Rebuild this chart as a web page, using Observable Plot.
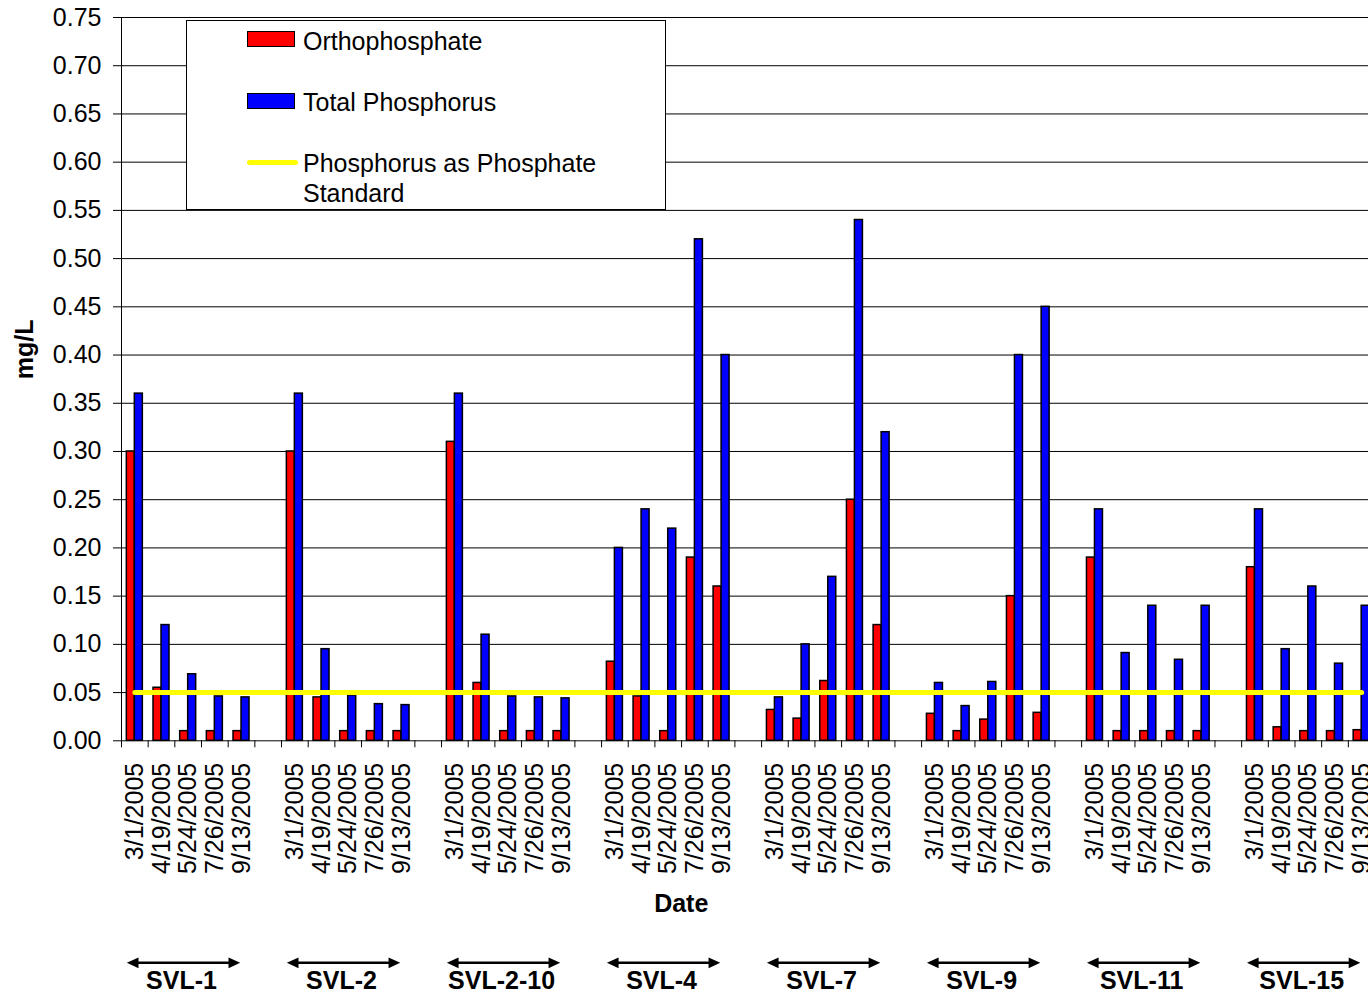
<!DOCTYPE html>
<html><head><meta charset="utf-8">
<script src="https://cdn.jsdelivr.net/npm/d3@7"></script>
<script src="https://cdn.jsdelivr.net/npm/@observablehq/plot@0.6"></script>
<style>
html,body{margin:0;padding:0;background:#fff;overflow:hidden;}
#wrap{position:relative;width:1368px;height:998px;overflow:hidden;font-family:"Liberation Sans",Arial,sans-serif;}
#chart{position:absolute;left:0;top:0;width:1400px;height:998px;}
#chart svg{max-width:none !important;width:1400px !important;height:998px !important;}
#legend{position:absolute;left:186px;top:20px;width:478px;height:188px;border:1px solid #000;background:#fff;}
.sw{position:absolute;left:60px;width:46px;height:14px;border:1.5px solid #000;}
.ln{position:absolute;left:60px;width:51px;height:5px;border-radius:3px;background:#FFFF00;}
.lt{position:absolute;left:116px;font-size:25px;line-height:30px;color:#000;white-space:nowrap;}
</style></head>
<body><div id="wrap"><div id="chart"></div>
<div id="legend"></div>
</div>
<script>
const stations = ["SVL-1","SVL-2","SVL-2-10","SVL-4","SVL-7","SVL-9","SVL-11","SVL-15"];
const dates = ["3/1/2005","4/19/2005","5/24/2005","7/26/2005","9/13/2005"];
const orthophosphate = [
  [0.30, 0.055, 0.010, 0.010, 0.010],
  [0.30, 0.045, 0.010, 0.010, 0.010],
  [0.31, 0.060, 0.010, 0.010, 0.010],
  [0.082, 0.046, 0.010, 0.19, 0.16],
  [0.032, 0.023, 0.062, 0.25, 0.12],
  [0.028, 0.010, 0.022, 0.15, 0.029],
  [0.19, 0.010, 0.010, 0.010, 0.010],
  [0.18, 0.014, 0.010, 0.010, 0.011]
];
const totalPhosphorus = [
  [0.36, 0.12, 0.069, 0.046, 0.045],
  [0.36, 0.095, 0.047, 0.038, 0.037],
  [0.36, 0.11, 0.046, 0.045, 0.044],
  [0.20, 0.24, 0.22, 0.52, 0.40],
  [0.045, 0.10, 0.17, 0.54, 0.32],
  [0.060, 0.036, 0.061, 0.40, 0.45],
  [0.24, 0.091, 0.14, 0.084, 0.14],
  [0.24, 0.095, 0.16, 0.080, 0.14]
];
const standardValue = 0.05;
const yTicks = [0.00,0.05,0.10,0.15,0.20,0.25,0.30,0.35,0.40,0.45,0.50,0.55,0.60,0.65,0.70,0.75];
const seriesNames = ["Orthophosphate","Total Phosphorus","Phosphorus as Phosphate Standard"];
const seriesColors = ["#FF0000","#0000FF","#FFFF00"];

// build table
const perGroup = dates.length + 1; // one empty category between stations
const rows = stations.flatMap((s, i) => dates.map((d, j) => ({
  station: s, date: d, slot: i * perGroup + j,
  ortho: orthophosphate[i][j], total: totalPhosphorus[i][j], standard: standardValue
})));
const groups = stations.map((s, i) => ({station: s, first: i * perGroup, last: i * perGroup + dates.length - 1}));
const nSlots = stations.length * perGroup - 1;
const boundaries = d3.range(nSlots + 1).map(k => k - 0.5);

const chart = Plot.plot({
  width: 1400, height: 998,
  marginLeft: 121, marginRight: 25.5, marginTop: 17, marginBottom: 257.7,
  style: {fontFamily: "Liberation Sans, Arial, sans-serif", fontSize: "25px", color: "#000", background: "transparent", overflow: "visible", maxWidth: "none"},
  x: {type: "linear", domain: [-0.5, nSlots - 0.5], ticks: boundaries, tickFormat: () => "", tickSize: 7, label: null},
  y: {domain: [0, 0.75], ticks: yTicks, tickFormat: d3.format(".2f"), tickSize: 8, tickPadding: 12, label: null},
  marks: [
    Plot.ruleY(yTicks, {stroke: "#000", strokeWidth: 1}),
    Plot.rectY(rows, {x1: d => d.slot - 0.3, x2: d => d.slot, y: "ortho", fill: seriesColors[0], stroke: "#000", strokeWidth: 1.5}),
    Plot.rectY(rows, {x1: d => d.slot, x2: d => d.slot + 0.3, y: "total", fill: seriesColors[1], stroke: "#000", strokeWidth: 1.5}),
    Plot.ruleX([-0.5], {stroke: "#000", strokeWidth: 1}),
    Plot.line(rows, {x: "slot", y: "standard", stroke: seriesColors[2], strokeWidth: 5, strokeLinecap: "round"}),
    Plot.text(rows, {x: "slot", text: "date", frameAnchor: "bottom", rotate: -90, textAnchor: "end", lineAnchor: "middle", dy: 22}),
    Plot.text(["Date"], {frameAnchor: "bottom", dx: -67, dy: 163, fontWeight: "bold", lineAnchor: "middle"}),
    Plot.text(["mg/L"], {frameAnchor: "left", dx: -97, rotate: -90, fontWeight: "bold", lineAnchor: "middle"}),
    Plot.link(groups, {x1: d => d.first - 0.05, x2: d => d.first + 3.7, y1: 0, y2: 0, dy: 222, stroke: "#000", strokeWidth: 2.5, markerStart: "arrow", markerEnd: "arrow"}),
    Plot.text(groups, {x: d => d.first + 1.75, text: "station", frameAnchor: "bottom", dy: 240, fontWeight: "bold", lineAnchor: "middle"})
  ]
});
chart.style.maxWidth = "none";
// solid triangular arrowheads
chart.querySelectorAll("marker").forEach(m => {
  m.setAttribute("orient", "auto-start-reverse");
  m.setAttribute("fill", "#000");
  m.setAttribute("stroke", "none");
  m.innerHTML = "";
  const p = document.createElementNS("http://www.w3.org/2000/svg", "path");
  p.setAttribute("d", "M-3,-3.2L4,0L-3,3.2Z");
  m.appendChild(p);
});
document.getElementById("chart").appendChild(chart);

// legend
const lg = document.getElementById("legend");
lg.innerHTML =
  `<div class="sw" style="top:10px;background:${seriesColors[0]}"></div>` +
  `<div class="lt" style="top:5px">${seriesNames[0]}</div>` +
  `<div class="sw" style="top:72px;background:${seriesColors[1]}"></div>` +
  `<div class="lt" style="top:66px">${seriesNames[1]}</div>` +
  `<div class="ln" style="top:139px"></div>` +
  `<div class="lt" style="top:127px;white-space:normal;width:330px">${seriesNames[2]}</div>`;
</script>
</body></html>
